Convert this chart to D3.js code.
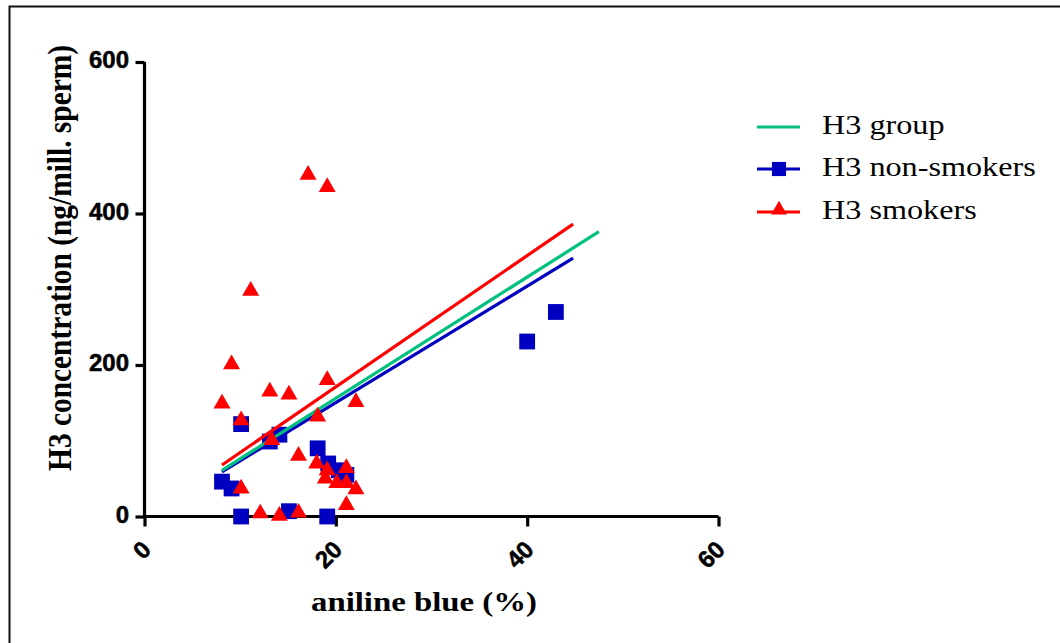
<!DOCTYPE html>
<html><head><meta charset="utf-8">
<script src="https://cdn.jsdelivr.net/npm/d3@7"></script>
<style>body{margin:0;background:#fff} svg{display:block}</style>
</head><body><svg id="c" width="1060" height="643"></svg>
<script>
// Data
const nonSmokerX = [10.1, 13.1, 14.1, 18.1, 19.2, 20.3, 21.1, 8.1, 9.1, 10.1, 15.1, 19.1, 40.0, 43.0];
const nonSmokerY = [122, 99, 108, 90, 70, 61, 55, 46, 37, 0, 7, 0, 231, 270];
const smokerX = [17.1, 19.1, 11.1, 9.1, 8.1, 10.1, 13.1, 15.1, 19.1, 22.1, 18.1, 13.3, 16.1, 18.0, 19.1, 21.1, 18.9, 20.1, 21.1, 22.1, 10.1, 21.1, 12.1, 14.1, 16.1];
const smokerY = [451, 435, 298, 201, 149, 127, 165, 161, 180, 151, 132, 101, 80, 70, 61, 64, 50, 44, 44, 36, 37, 15, 4, 1, 5];
const seriesNames = ["H3 group", "H3 non-smokers", "H3 smokers"];
const lineStartX = [8.1, 8.1, 8.1];
const lineStartY = [61, 59, 68];
const lineEndX = [47.5, 44.8, 44.8];
const lineEndY = [376, 341, 386];
const xTicks = [0, 20, 40, 60];
const yTicks = [0, 200, 400, 600];
const xLabel = "aniline blue (%)";
const yLabel = "H3 concentration (ng/mill. sperm)";

const colors = ["#00C07F", "#0000C0", "#FF0000"];
const svg = d3.select("#c");

// frame
svg.append("rect").attr("x", 9.5).attr("y", 6.5).attr("width", 1100).attr("height", 700)
  .attr("fill", "none").attr("stroke", "#111").attr("stroke-width", 2);

const x = d3.scaleLinear().domain([0, 60]).range([144.5, 718.5]);
const y = d3.scaleLinear().domain([0, 600]).range([516.5, 62]);

// axes
const xAxis = svg.append("g").attr("transform", `translate(0,${y(0)})`)
  .call(d3.axisBottom(x).tickValues(xTicks).tickSize(10).tickFormat(""));
const yAxis = svg.append("g").attr("transform", `translate(${x(0)},0)`)
  .call(d3.axisLeft(y).tickValues(yTicks).tickSize(9).tickFormat(""));
[xAxis, yAxis].forEach(g => {
  g.selectAll("path.domain").attr("stroke", "#000").attr("stroke-width", 3.2);
  g.selectAll(".tick line").attr("stroke", "#000").attr("stroke-width", 3.2);
});
yAxis.select("path.domain").attr("d", `M0,${y(600)}V${y(0)}`);
xAxis.select("path.domain").attr("d", `M${x(0)},0H${x(60)}`);

const tickFont = "'Liberation Sans', Arial, sans-serif";
svg.append("g").selectAll("text").data(yTicks).join("text")
  .attr("x", 129).attr("y", d => y(d)).attr("dy", "0.26em")
  .attr("text-anchor", "end").attr("font-family", tickFont).attr("font-weight", "bold")
  .attr("font-size", 24).attr("stroke", "#000").attr("stroke-width", 0.5).text(d => d);
svg.append("g").selectAll("text").data(xTicks).join("text")
  .attr("transform", d => `translate(${x(d) + 2},545) rotate(-45)`).attr("dy", "0.35em")
  .attr("text-anchor", "end").attr("font-family", tickFont).attr("font-weight", "bold")
  .attr("font-size", 24).attr("stroke", "#000").attr("stroke-width", 0.5).text(d => d);

const serif = "'Liberation Serif', 'Times New Roman', serif";
svg.append("text").attr("x", 424).attr("y", 611).attr("text-anchor", "middle")
  .attr("font-family", serif).attr("font-weight", "bold").attr("font-size", 27)
  .attr("textLength", 226).attr("lengthAdjust", "spacingAndGlyphs").text(xLabel);
svg.append("text").attr("transform", "translate(71,258) rotate(-90) scale(0.98,1.12)").attr("text-anchor", "middle")
  .attr("font-family", serif).attr("font-weight", "bold").attr("font-size", 30).text(yLabel);

const sq = d3.symbol().type(d3.symbolSquare).size(250);
const tri = d3.symbol().type(d3.symbolTriangle).size(125);
function regLine(i) {
  svg.append("line").attr("x1", x(lineStartX[i])).attr("y1", y(lineStartY[i]))
    .attr("x2", x(lineEndX[i])).attr("y2", y(lineEndY[i]))
    .attr("stroke", colors[i]).attr("stroke-width", 3.2);
}
// non-smokers
svg.append("g").selectAll("path").data(nonSmokerX).join("path")
  .attr("transform", (d, i) => `translate(${x(d)},${y(nonSmokerY[i])})`)
  .attr("d", sq).attr("fill", colors[1]);
regLine(1);
regLine(0);
svg.append("g").selectAll("path").data(smokerX).join("path")
  .attr("transform", (d, i) => `translate(${x(d)},${y(smokerY[i])})`)
  .attr("d", tri).attr("fill", colors[2]);
regLine(2);

// legend
const legY = [127, 169, 212];
const leg = svg.append("g");
seriesNames.forEach((name, i) => {
  leg.append("line").attr("x1", 757).attr("x2", 800).attr("y1", legY[i]).attr("y2", legY[i])
    .attr("stroke", colors[i]).attr("stroke-width", 3.2);
  if (i === 1) leg.append("path").attr("transform", `translate(779,${legY[i]})`)
    .attr("d", d3.symbol().type(d3.symbolSquare).size(200)).attr("fill", colors[i]);
  if (i === 2) leg.append("path").attr("transform", `translate(779,${legY[i] - 2})`)
    .attr("d", d3.symbol().type(d3.symbolTriangle).size(110)).attr("fill", colors[i]);
  const t = leg.append("text").attr("x", 822).attr("y", legY[i] + 7)
    .attr("font-family", serif).attr("font-size", 28).text(name);
  const w = t.node().getComputedTextLength();
  t.attr("textLength", w * 1.15).attr("lengthAdjust", "spacingAndGlyphs");
});
</script></body></html>
